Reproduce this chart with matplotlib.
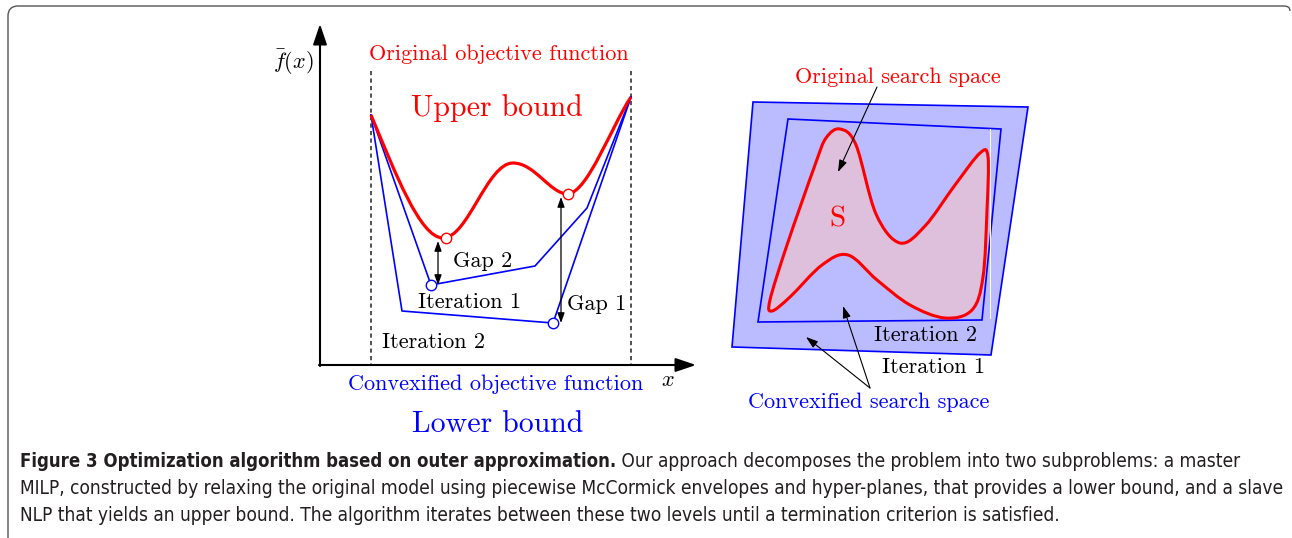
import matplotlib
matplotlib.use('Agg')
import matplotlib.pyplot as plt
from matplotlib.path import Path
from matplotlib.patches import PathPatch, Polygon
from matplotlib import font_manager as fm
from matplotlib.font_manager import FontProperties
import numpy as np

plt.rcParams['mathtext.fontset'] = 'cm'

W, H = 1292, 538

# ---------------- data (pixel space of the figure) ----------------
# original objective function: cubic Bezier vertices
objective_verts = [(371, 115), (395, 172), (420, 238), (443, 238),
                   (468, 238), (487, 163), (513, 163),
                   (535, 163), (550, 194), (568, 194),
                   (588, 192), (612, 125), (631, 97)]
# convexified objective (piecewise linear), iterations
iter1_x = [371, 431, 535, 587, 631]
iter1_y = [115, 285, 266, 208, 97]
iter2_x = [371, 402, 553, 631]
iter2_y = [115, 311, 323, 97]
upper_pts_x = [446, 568]
upper_pts_y = [238, 194]
lower_pts_x = [431, 553]
lower_pts_y = [285, 323]
gap_x = [438, 561]
gap_top = [241, 197]
gap_bot = [285, 323]
gap_labels = ['Gap 2', 'Gap 1']

# search spaces
outer_box = [(753, 102), (1028, 107), (991, 355), (732, 347)]
inner_box = [(788, 119), (1001, 129), (982, 320), (758, 322)]
s_shape = [(840, 129), (856, 145), (876, 214), (900, 243), (925, 226),
           (955, 185), (980, 153), (988, 157), (987, 210), (983, 277),
           (972, 310), (945, 318), (910, 305), (877, 280), (848, 255),
           (822, 265), (790, 297), (772, 311), (770, 300), (787, 245),
           (815, 165), (826, 138)]

caption_bold = 'Figure 3 Optimization algorithm based on outer approximation.'
caption_lines = [
    'Our approach decomposes the problem into two subproblems: a master',
    'MILP, constructed by relaxing the original model using piecewise McCormick envelopes and hyper-planes, that provides a lower bound, and a slave',
    'NLP that yields an upper bound. The algorithm iterates between these two levels until a termination criterion is satisfied.',
]

RED = '#ff0000'
BLUE = '#0000ff'

fig = plt.figure(figsize=(W / 100, H / 100), dpi=100)
ax = fig.add_axes([0, 0, 1, 1])
ax.set_xlim(0, W)
ax.set_ylim(H, 0)
ax.axis('off')

# frame
frame = Path([(8, 540), (8, 16), (8, 6), (18, 6), (1284, 6), (1290, 6), (1290, 11)],
             [Path.MOVETO, Path.LINETO, Path.CURVE3, Path.CURVE3, Path.LINETO,
              Path.CURVE3, Path.CURVE3])
ax.add_patch(PathPatch(frame, fill=False, ec='#555555', lw=1.0))

# ---------------- left panel ----------------
axis_arrow = dict(arrowstyle='-|>,head_length=0.62,head_width=0.21',
                  mutation_scale=20, lw=1.5, color='black', shrinkA=0, shrinkB=0)
ax.annotate('', xy=(320, 24), xytext=(320, 366), arrowprops=axis_arrow)
ax.annotate('', xy=(696, 365), xytext=(319, 365), arrowprops=axis_arrow)
for xv in (371, 631):
    ax.plot([xv, xv], [71, 365], ls=(0, (2.5, 2.0)), color='#333333', lw=1.2)

ax.plot(iter1_x, iter1_y, color=BLUE, lw=1.2, zorder=3)
ax.plot(iter2_x, iter2_y, color=BLUE, lw=1.2, zorder=3)
ax.add_patch(PathPatch(Path(objective_verts,
                            [Path.MOVETO] + [Path.CURVE4] * (len(objective_verts) - 1)),
                       fill=False, ec=RED, lw=2.3, zorder=4))
for gx, gt, gb in zip(gap_x, gap_top, gap_bot):
    ax.annotate('', xy=(gx, gt), xytext=(gx, gb),
                arrowprops=dict(arrowstyle='<|-|>,head_length=0.5,head_width=0.18',
                                mutation_scale=12, lw=0.9, color='black',
                                shrinkA=0, shrinkB=0), zorder=5)
ax.plot(upper_pts_x, upper_pts_y, 'o', ms=7.5, mfc='white', mec=RED, mew=1.0, zorder=6)
ax.plot(lower_pts_x, lower_pts_y, 'o', ms=7.5, mfc='white', mec=BLUE, mew=1.0, zorder=6)

serif = dict(family='cmr10')
SMALL = 16
BIG = 21.5
ax.text(499, 54, 'Original objective function', color=RED, fontsize=SMALL,
        ha='center', va='center', **serif)
ax.text(497, 108, 'Upper bound', color=RED, fontsize=BIG, ha='center', va='center', **serif)
ax.text(293, 62, r'$\bar{f}(x)$', color='black', fontsize=16, ha='center', va='center')
ax.text(483, 261, gap_labels[0], fontsize=SMALL, ha='center', va='center', **serif)
ax.text(597, 304, gap_labels[1], fontsize=SMALL, ha='center', va='center', **serif)
ax.text(469, 302, 'Iteration 1', fontsize=SMALL, ha='center', va='center', **serif)
ax.text(433, 342, 'Iteration 2', fontsize=SMALL, ha='center', va='center', **serif)
ax.text(496, 384, 'Convexified objective function', color=BLUE, fontsize=SMALL,
        ha='center', va='center', **serif)
ax.text(668, 380, r'$x$', fontsize=16, ha='center', va='center')
ax.text(498, 424, 'Lower bound', color=BLUE, fontsize=BIG, ha='center', va='center', **serif)

# ---------------- right panel ----------------
ax.add_patch(Polygon(outer_box, closed=True, fc='#bbbbff', ec=BLUE, lw=1.2, zorder=2))
ax.add_patch(Polygon(inner_box, closed=True, fc='#bbbbff', ec=BLUE, lw=1.2, zorder=2))
ax.plot([989.5, 989.5], [129, 318], color='white', lw=0.7, zorder=2)

# closed smooth curve through s_shape (Catmull-Rom -> cubic Bezier)
pts = np.array(s_shape, dtype=float)
n = len(pts)
verts = [tuple(pts[0])]
codes = [Path.MOVETO]
for i in range(n):
    p0, p1, p2, p3 = pts[i - 1], pts[i], pts[(i + 1) % n], pts[(i + 2) % n]
    c1 = p1 + (p2 - p0) / 6.0
    c2 = p2 - (p3 - p1) / 6.0
    verts += [tuple(c1), tuple(c2), tuple(p2)]
    codes += [Path.CURVE4] * 3
ax.add_patch(PathPatch(Path(verts, codes), fc='#dfc0dc', ec=RED, lw=2.2, zorder=3))

ax.text(837, 219, 'S', color=RED, fontsize=21, ha='center', va='center', zorder=5, **serif)
ax.text(898, 77, 'Original search space', color=RED, fontsize=SMALL,
        ha='center', va='center', **serif)
ax.text(925, 335, 'Iteration 2', fontsize=SMALL, ha='center', va='center', zorder=5, **serif)
ax.text(933, 367, 'Iteration 1', fontsize=SMALL, ha='center', va='center', **serif)
ax.text(869, 402, 'Convexified search space', color=BLUE, fontsize=SMALL,
        ha='center', va='center', **serif)

thin = dict(arrowstyle='-|>,head_length=0.6,head_width=0.2', mutation_scale=12,
            lw=0.8, color='black', shrinkA=0, shrinkB=0)
ax.annotate('', xy=(838, 172), xytext=(877, 87), arrowprops=thin, zorder=6)
ax.annotate('', xy=(806, 337), xytext=(870, 388), arrowprops=thin, zorder=6)
ax.annotate('', xy=(843, 306), xytext=(870, 388), arrowprops=thin, zorder=6)

# ---------------- caption ----------------
STRETCH = {'ultra-condensed': 100, 'extra-condensed': 200, 'condensed': 300,
           'semi-condensed': 400, 'normal': 500, 'semi-expanded': 600,
           'expanded': 700, 'extra-expanded': 800, 'ultra-expanded': 900}
SANS = ('Liberation Sans Narrow', 'Roboto Condensed', 'Open Sans Condensed',
        'Noto Sans Condensed', 'Roboto', 'Noto Sans', 'Open Sans', 'DejaVu Sans',
        'Lato', 'Inter', 'Liberation Sans')


def _num(v, table, default):
    if isinstance(v, (int, float)):
        return v
    return table.get(v, default)


def pick_font(weight_target):
    best, best_score = None, None
    for f in fm.fontManager.ttflist:
        if f.name not in SANS or f.style != 'normal':
            continue
        st = _num(f.stretch, STRETCH, 500)
        if 'Narrow' in f.name or 'Condensed' in f.name:
            st = min(st, 350)
        wt = _num(f.weight, fm.weight_dict, 400)
        score = abs(st - 380) / 100.0 + abs(wt - weight_target) / 100.0
        if best_score is None or score < best_score:
            best, best_score = f, score
    if best is None:
        return FontProperties(family='DejaVu Sans',
                              weight='bold' if weight_target > 500 else 'normal')
    return FontProperties(fname=best.fname)


fp_reg = pick_font(400)
fp_bold = pick_font(700)

cap_size = 12.0
baselines = [467, 494, 521]
tb = ax.text(20, baselines[0], caption_bold, fontproperties=fp_bold.copy(),
             ha='left', va='baseline', color='#231f20')
caps = [tb]
caps.append(ax.annotate(' ' + caption_lines[0], xy=(1, baselines[0]),
                        xycoords=(tb, 'data'), fontproperties=fp_reg.copy(),
                        ha='left', va='baseline', color='#231f20'))
for line, b in zip(caption_lines[1:], baselines[1:]):
    caps.append(ax.text(20, b, line, fontproperties=fp_reg.copy(),
                        ha='left', va='baseline', color='#231f20'))
for t in caps:
    t.set_fontsize(cap_size)

# fit caption widths to the reference (bold part spans ~20..617 px,
# line 2 spans ~20..1283 px)
fig.canvas.draw()
r = fig.canvas.get_renderer()
s_reg = 1263.0 / caps[2].get_window_extent(r).width
s_bold = 597.0 / tb.get_window_extent(r).width
tb.set_fontsize(cap_size * s_bold)
for t in caps[1:]:
    t.set_fontsize(cap_size * s_reg)

fig.savefig('out.png', dpi=100)
